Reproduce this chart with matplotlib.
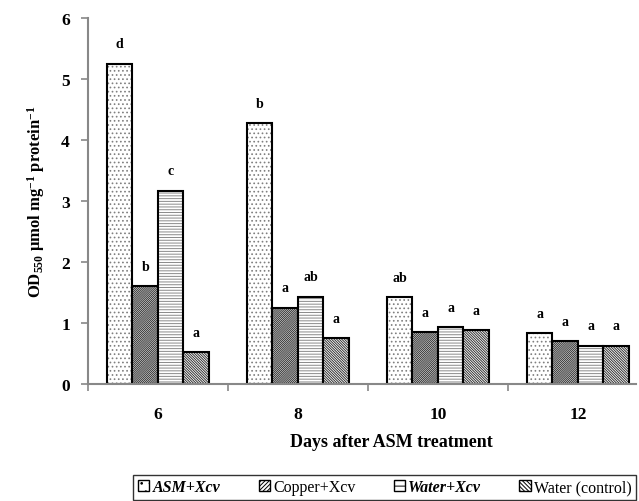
import numpy as np
import matplotlib
matplotlib.use("Agg")
import matplotlib.pyplot as plt
from matplotlib.patches import Patch

plt.rcParams['font.family'] = ['Liberation Serif', 'DejaVu Serif']
plt.rcParams['font.weight'] = 'bold'
plt.rcParams['mathtext.fontset'] = 'custom'
plt.rcParams['mathtext.rm'] = 'Liberation Serif:bold'
plt.rcParams['mathtext.bf'] = 'Liberation Serif:bold'
plt.rcParams['mathtext.it'] = 'Liberation Serif:italic:bold'
plt.rcParams['hatch.linewidth'] = 0.7

days = ['6', '8', '10', '12']
series = ['ASM+Xcv', 'Copper+Xcv', 'Water+Xcv', 'Water (control)']
asm = [5.25, 4.28, 1.42, 0.83]
copper = [1.60, 1.25, 0.85, 0.70]
water = [3.17, 1.43, 0.93, 0.63]
control = [0.52, 0.75, 0.88, 0.63]
letters = [['d', 'b', 'ab', 'a'],
           ['b', 'a', 'a', 'a'],
           ['c', 'ab', 'a', 'a'],
           ['a', 'a', 'a', 'a']]

values = [asm, copper, water, control]
hatches = ['....', '/' * 16, '-' * 6, '\\' * 13]
hatch_cols = ['#808080', '#333333', '#8a8a8a', '#333333']

fig = plt.figure(figsize=(6.39, 5.02), dpi=100)
ax = fig.add_axes([0.1377, 0.233, 0.8573, 0.729])

x = np.arange(len(days))
w = 0.182
for i, vals in enumerate(values):
    pos = x + (i - 1.5) * w
    ax.bar(pos, vals, w, color='white', edgecolor=hatch_cols[i],
           hatch=hatches[i], linewidth=0)
    ax.bar(pos, vals, w, fill=False, edgecolor='black', linewidth=1.5)
    for p, v, t in zip(pos, vals, letters[i]):
        ax.text(p, v + 0.22, t, ha='center', va='bottom', fontsize=10,
                fontweight='bold')

ax.set_xlim(-0.5, 3.414)
ax.set_ylim(0, 6)
ax.set_yticks(range(0, 7))
ax.set_xticks(x)
ax.set_xticklabels(days)
ax.set_xticks(np.arange(-0.5, 3.5, 1), minor=True)
ax.tick_params(axis='x', which='major', length=0, pad=16, labelsize=12.5)
ax.tick_params(axis='x', which='minor', length=5, color='#888888', width=1.2)
ax.tick_params(axis='y', length=5, color='#888888', width=1.2, labelsize=12.5, pad=8)
for lab in ax.get_xticklabels() + ax.get_yticklabels():
    lab.set_fontweight('bold')

for s in ['top', 'right']:
    ax.spines[s].set_visible(False)
for s in ['left', 'bottom']:
    ax.spines[s].set_color('#888888')
    ax.spines[s].set_linewidth(1.5)

ax.set_ylabel(r'OD$_{550}$ µmol mg$^{-1}$ protein$^{-1}$', fontsize=12,
              fontweight='bold', labelpad=10)
ax.set_xlabel('Days after ASM treatment', fontsize=13, fontweight='bold')
ax.xaxis.set_label_coords(0.553, -0.135)

handles = [Patch(facecolor='white', edgecolor='black', hatch=h, linewidth=1)
           for h in ['..', '/' * 8, '---', '\\' * 8]]
leg = fig.legend(handles, series, loc='lower right', ncol=4,
                 bbox_to_anchor=(0.997, 0.0), fontsize=11.5, frameon=True,
                 fancybox=False, edgecolor='black', handlelength=0.7,
                 handleheight=0.7, handletextpad=0.2, columnspacing=2.4,
                 borderpad=0.3, borderaxespad=0.05)
leg.get_frame().set_linewidth(1.0)
for i, t in enumerate(leg.get_texts()):
    if i in (0, 2):
        t.set_fontstyle('italic')
        t.set_fontweight('bold')
    else:
        t.set_fontweight('normal')

fig.savefig('out.png', dpi=100)
